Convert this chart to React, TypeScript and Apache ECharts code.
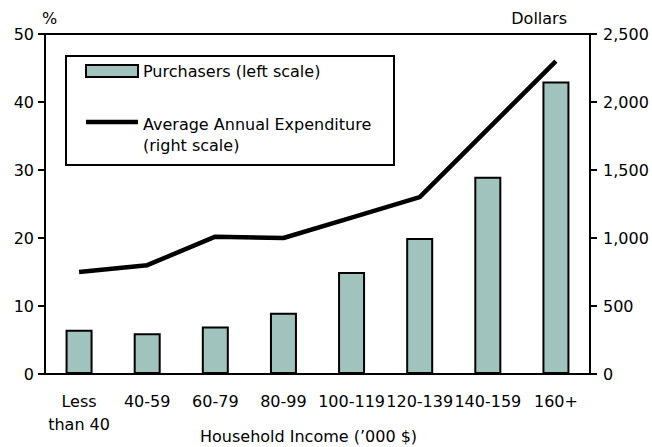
import React, { useEffect, useRef } from "react";
import * as echarts from "echarts";

const incomeBands = ["Less\nthan 40", "40-59", "60-79", "80-99", "100-119", "120-139", "140-159", "160+"];
const purchasersPct = [6.5, 6.0, 7.0, 9.0, 15.0, 20.0, 29.0, 43.0];
const avgExpenditure = [750, 800, 1010, 1000, 1150, 1300, 1800, 2300];

const FONT = "DejaVu Sans, Liberation Sans, Arial, sans-serif";
const FONT_SIZE = 16;
const BAR_COLOR = "#a0c4bd";

export default function App() {
  const ref = useRef<HTMLDivElement>(null);

  useEffect(() => {
    if (!ref.current) return;
    const chart = echarts.init(ref.current, undefined, { renderer: "svg" });
    const textStyle = { fontFamily: FONT, fontSize: FONT_SIZE, color: "#000" };
    const font = `${FONT_SIZE}px ${FONT}`;
    chart.setOption({
      animation: false,
      backgroundColor: "#fff",
      textStyle: { fontFamily: FONT },
      grid: {
        left: 45,
        right: 62,
        top: 34,
        bottom: 73,
        show: true,
        borderColor: "#000",
        borderWidth: 2,
      },
      xAxis: {
        type: "category",
        data: incomeBands,
        axisLine: { lineStyle: { color: "#000", width: 2 } },
        axisTick: { show: false },
        axisLabel: { ...textStyle, margin: 16, lineHeight: 23, interval: 0 },
      },
      yAxis: [
        {
          type: "value",
          min: 0,
          max: 50,
          interval: 10,
          splitLine: { show: false },
          axisLine: { show: true, lineStyle: { color: "#000", width: 2 } },
          axisTick: { show: true, length: 7, lineStyle: { color: "#000", width: 2 } },
          axisLabel: { ...textStyle, margin: 11 },
        },
        {
          type: "value",
          position: "right",
          min: 0,
          max: 2500,
          interval: 500,
          splitLine: { show: false },
          axisLine: { show: true, lineStyle: { color: "#000", width: 2 } },
          axisTick: { show: true, length: 7, lineStyle: { color: "#000", width: 2 } },
          axisLabel: {
            ...textStyle,
            margin: 13,
            formatter: (v: number) => v.toLocaleString("en-US"),
          },
        },
      ],
      series: [
        {
          name: "Purchasers (left scale)",
          type: "bar",
          yAxisIndex: 0,
          data: purchasersPct,
          barWidth: 27,
          itemStyle: { color: BAR_COLOR, borderColor: "#000", borderWidth: 2 },
        },
        {
          name: "Average Annual Expenditure (right scale)",
          type: "line",
          yAxisIndex: 1,
          data: avgExpenditure,
          showSymbol: false,
          lineStyle: { color: "#000", width: 4.5 },
          z: 3,
        },
      ],
      graphic: [
        { type: "text", left: 42, top: 10, style: { text: "%", fill: "#000", font } },
        { type: "text", right: 85, top: 10, style: { text: "Dollars", fill: "#000", font } },
        {
          type: "text",
          left: 200,
          top: 428,
          style: { text: "Household Income (\u2019000 $)", fill: "#000", font },
        },
        // legend box
        {
          type: "rect",
          shape: { x: 66, y: 56, width: 328, height: 109 },
          style: { fill: "#fff", stroke: "#000", lineWidth: 2 },
          z: 10,
        },
        {
          type: "rect",
          shape: { x: 86, y: 65, width: 52, height: 12 },
          style: { fill: BAR_COLOR, stroke: "#000", lineWidth: 2 },
          z: 11,
        },
        {
          type: "text",
          x: 143,
          y: 71,
          style: { text: "Purchasers (left scale)", fill: "#000", font, verticalAlign: "middle" },
          z: 11,
        },
        {
          type: "line",
          shape: { x1: 86, y1: 122, x2: 138, y2: 122 },
          style: { stroke: "#000", lineWidth: 4.5 },
          z: 11,
        },
        {
          type: "text",
          x: 143,
          y: 124,
          style: { text: "Average Annual Expenditure", fill: "#000", font, verticalAlign: "middle" },
          z: 11,
        },
        {
          type: "text",
          x: 143,
          y: 145,
          style: { text: "(right scale)", fill: "#000", font, verticalAlign: "middle" },
          z: 11,
        },
      ],
    });
    return () => chart.dispose();
  }, []);

  return <div ref={ref} style={{ width: 652, height: 447, position: "fixed", left: 0, top: 0 }} />;
}
